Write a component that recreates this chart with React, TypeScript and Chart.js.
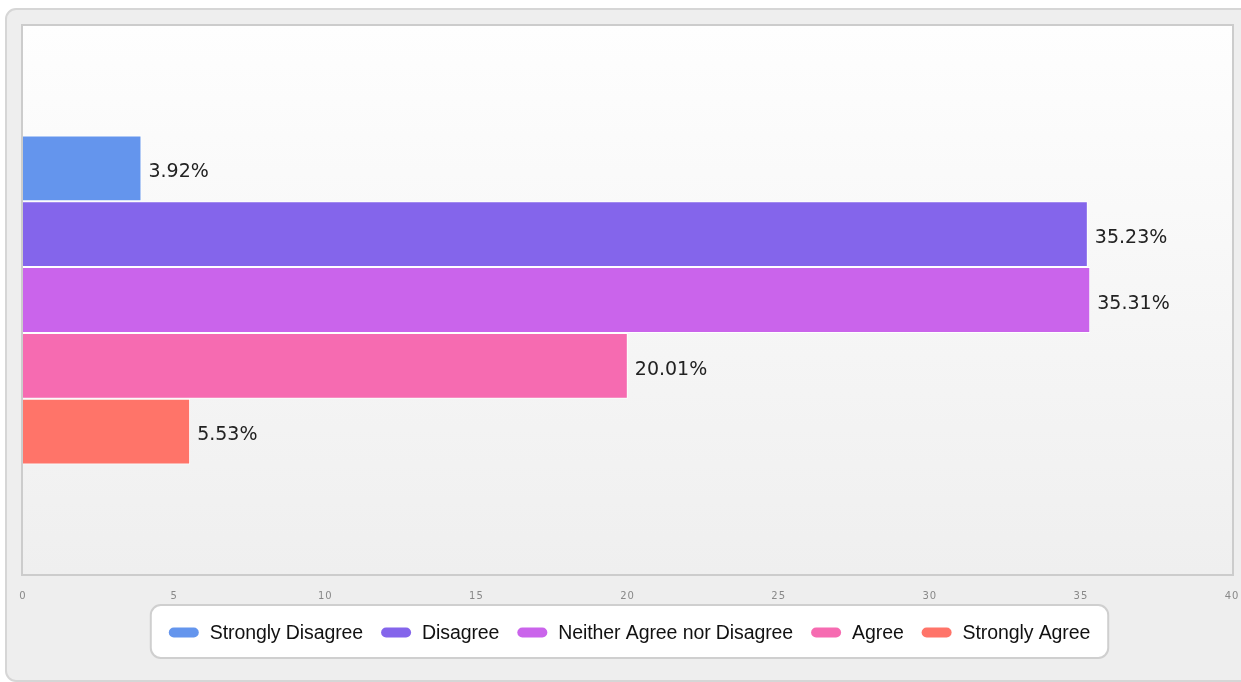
import React, { useEffect, useRef } from "react";
import { Chart, registerables } from "chart.js";

Chart.register(...registerables);

const categories = ["Responses"];
const seriesLabels = [
  "Strongly Disagree",
  "Disagree",
  "Neither Agree nor Disagree",
  "Agree",
  "Strongly Agree",
];
const seriesValues = [3.92, 35.23, 35.31, 20.01, 5.53];
const seriesColors = ["#6495ED", "#8465EB", "#CA64EB", "#F66BB1", "#FF7469"];
const xMin = 0;
const xMax = 40;
const xStep = 5;

const W = 1241;
const H = 682;

const framePlugin = {
  id: "frame",
  beforeDraw(chart: any) {
    const { ctx, chartArea } = chart;
    ctx.save();
    ctx.fillStyle = "#ffffff";
    ctx.fillRect(0, 0, W, H);
    // outer panel
    ctx.beginPath();
    ctx.roundRect(6, 9, W + 10, H - 10, 10);
    ctx.fillStyle = "#eeeeee";
    ctx.fill();
    ctx.lineWidth = 2;
    ctx.strokeStyle = "#d6d6d6";
    ctx.stroke();
    // plot area
    const { left, top, right, bottom } = chartArea;
    const g = ctx.createLinearGradient(0, top, 0, bottom);
    g.addColorStop(0, "#fefefe");
    g.addColorStop(1, "#efefef");
    ctx.fillStyle = g;
    ctx.fillRect(left, top, right - left, bottom - top);
    ctx.lineWidth = 2;
    ctx.strokeStyle = "#cccccc";
    ctx.strokeRect(left - 1, top - 1, right - left + 2, bottom - top + 2);
    ctx.restore();
    // spaced tick labels for the axis drawn next
    (ctx as any).letterSpacing = "1px";
  },
  beforeDatasetsDraw(chart: any) {
    (chart.ctx as any).letterSpacing = "0px";
  },
  afterDatasetsDraw(chart: any) {
    const { ctx } = chart;
    ctx.save();
    ctx.font = "19px 'DejaVu Sans'";
    ctx.fillStyle = "#222222";
    ctx.textAlign = "left";
    ctx.textBaseline = "middle";
    chart.data.datasets.forEach((ds: any, i: number) => {
      const meta = chart.getDatasetMeta(i);
      const bar = meta.data[0];
      if (!bar) return;
      ctx.fillText(ds.data[0].toFixed(2) + "%", bar.x + 7, bar.y + 4);
    });
    ctx.restore();
  },
  afterDraw(chart: any) {
    const { ctx, chartArea } = chart;
    ctx.save();
    ctx.font = "19.5px 'Liberation Sans', Arial";
    (ctx as any).letterSpacing = "-0.1px";
    const pillW = 30;
    const pillH = 10;
    const textGap = 11;
    const itemGap = 18;
    const padX = 18;
    const items = chart.data.datasets.map((ds: any) => ({
      label: ds.label,
      color: ds.backgroundColor,
      w: ctx.measureText(ds.label).width,
    }));
    let total = 0;
    items.forEach((it: any, i: number) => {
      total += pillW + textGap + it.w + (i < items.length - 1 ? itemGap : 0);
    });
    const boxW = total + padX * 2;
    const cx = (chartArea.left + chartArea.right) / 2 + 2;
    const boxX = cx - boxW / 2;
    const boxY = 605;
    const boxH = 53;
    ctx.beginPath();
    ctx.roundRect(boxX, boxY, boxW, boxH, 10);
    ctx.fillStyle = "#ffffff";
    ctx.fill();
    ctx.lineWidth = 2;
    ctx.strokeStyle = "#cfcfcf";
    ctx.stroke();
    const cy = boxY + boxH / 2 + 1;
    let x = boxX + padX;
    ctx.textBaseline = "middle";
    ctx.textAlign = "left";
    items.forEach((it: any) => {
      ctx.beginPath();
      ctx.roundRect(x, cy - pillH / 2, pillW, pillH, 5);
      ctx.fillStyle = it.color;
      ctx.fill();
      x += pillW + textGap;
      ctx.fillStyle = "#111111";
      ctx.fillText(it.label, x, cy + 1);
      x += it.w + itemGap;
    });
    ctx.restore();
  },
};

export default function App() {
  const ref = useRef<HTMLCanvasElement | null>(null);
  useEffect(() => {
    if (!ref.current) return;
    const chart = new Chart(ref.current, {
      type: "bar",
      data: {
        labels: categories,
        datasets: seriesLabels.map((label, i) => ({
          label,
          data: [seriesValues[i]],
          backgroundColor: seriesColors[i],
          borderColor: "#ffffff",
          borderWidth: 1,
          categoryPercentage: 0.6,
          barPercentage: 1,
        })),
      },
      options: {
        indexAxis: "y",
        animation: false,
        responsive: false,
        devicePixelRatio: 1,
        layout: { padding: { left: 23, top: 26, right: 9, bottom: 78 } },
        plugins: {
          legend: { display: false },
          tooltip: { enabled: false },
        },
        scales: {
          x: {
            min: xMin,
            max: xMax,
            grid: { display: false, drawTicks: false },
            border: { display: false },
            ticks: {
              stepSize: xStep,
              color: "#888888",
              font: { family: "'DejaVu Sans'", size: 10 },
              padding: 16,
            },
            afterFit: (scale: any) => {
              scale.height = 30;
              scale.paddingLeft = 8;
              scale.paddingRight = 8;
            },
          },
          y: { display: false },
        },
      },
      plugins: [framePlugin],
    });
    return () => chart.destroy();
  }, []);
  return (
    <canvas
      ref={ref}
      width={W}
      height={H}
      style={{ position: "fixed", left: 0, top: 0, width: W, height: H }}
    />
  );
}
